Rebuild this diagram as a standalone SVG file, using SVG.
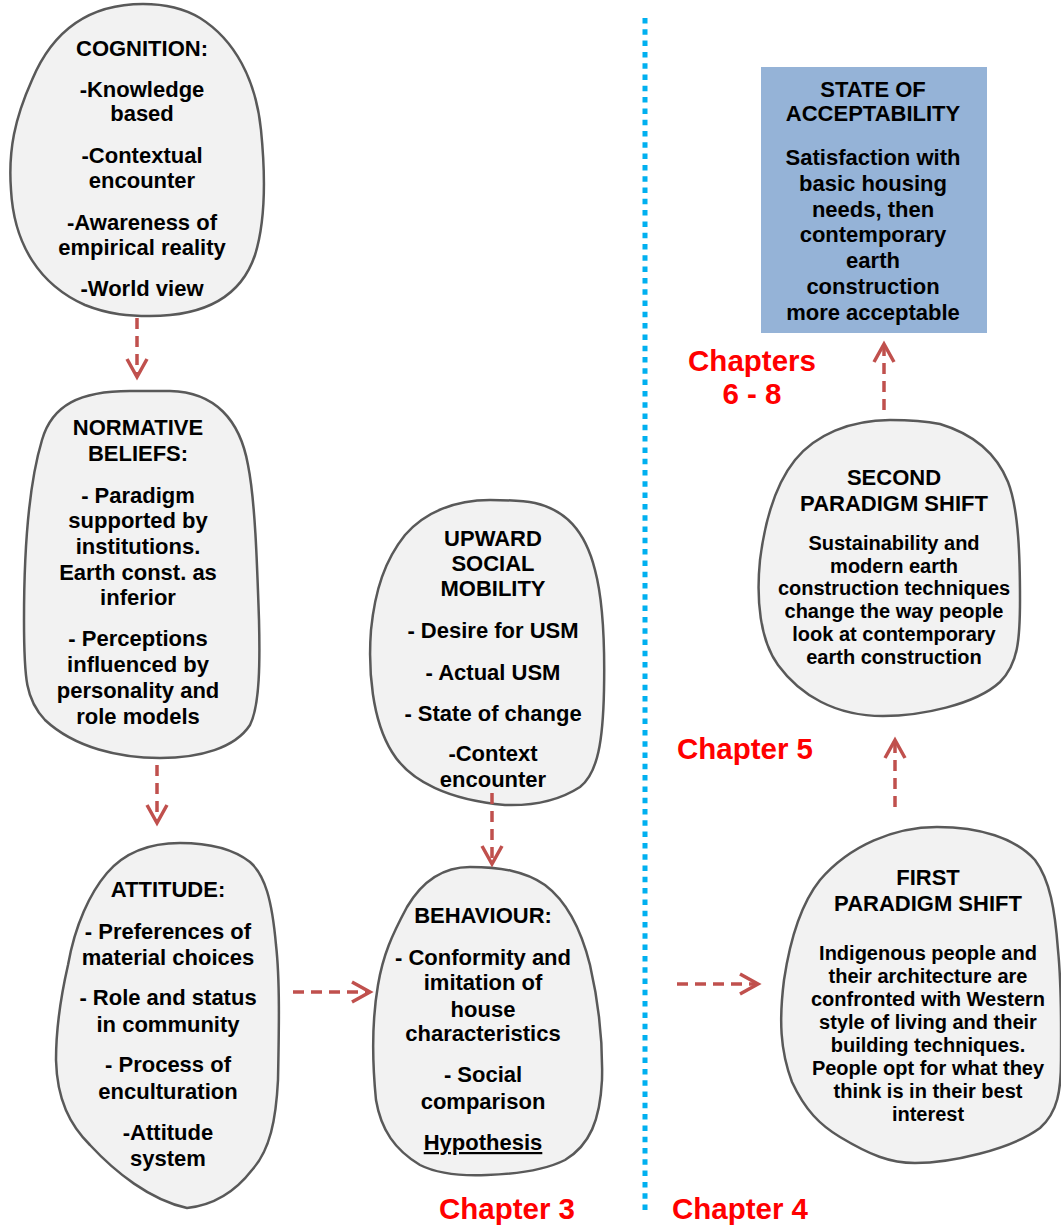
<svg xmlns="http://www.w3.org/2000/svg" width="1061" height="1226" viewBox="0 0 1061 1226">
<style>
.blob{fill:#F2F2F2;stroke:#595959;stroke-width:2.5}
.t{font-family:"Liberation Sans",Arial,sans-serif;font-weight:bold;font-size:22px;fill:#000;text-anchor:middle}
.s{font-size:20px}
.ch{font-family:"Liberation Sans",Arial,sans-serif;font-weight:bold;font-size:29.5px;fill:#FF0000;text-anchor:middle}
.arr{fill:none;stroke:#C0504D;stroke-width:3.5;stroke-dasharray:11 7;marker-end:url(#head)}
</style>
<defs>
<marker id="head" markerUnits="userSpaceOnUse" orient="auto" refX="0" refY="0" markerWidth="40" markerHeight="40" viewBox="-20 -20 40 40" overflow="visible">
<path d="M-18,-10 L0,0 L-18,10" fill="none" stroke="#C0504D" stroke-width="3.5"/>
</marker>
</defs>
<rect width="1061" height="1226" fill="#FFFFFF"/>
<line x1="645" y1="18" x2="645" y2="1212" stroke="#00B0F0" stroke-width="5" stroke-dasharray="5.5 5.8"/>

<g id="cognition">
<path class="blob" d="M143,4 C95,4 55,25 32,80 C15,118 8,150 11,190 C14,245 40,285 85,305 C110,315 130,316 150,316 C200,316 240,300 255,255 C266,220 265,170 261,130 C256,80 235,40 200,18 C185,9 165,4 143,4 Z"/>
<text class="t" x="142" y="56">COGNITION:</text>
<text class="t" x="142" y="97">-Knowledge</text>
<text class="t" x="142" y="121">based</text>
<text class="t" x="142" y="163">-Contextual</text>
<text class="t" x="142" y="188">encounter</text>
<text class="t" x="142" y="230">-Awareness of</text>
<text class="t" x="142" y="255">empirical reality</text>
<text class="t" x="142" y="296">-World view</text>
</g>

<g id="normative">
<path class="blob" d="M130,391 C80,391 52,405 42,440 C30,480 24,540 24,620 C24,680 26,700 45,720 C75,748 120,758 160,758 C200,758 235,748 250,725 C260,705 260,660 259,620 C257,560 255,500 248,465 C240,420 215,392 170,391 Z"/>
<text class="t" x="138" y="435">NORMATIVE</text>
<text class="t" x="138" y="461">BELIEFS:</text>
<text class="t" x="138" y="503">- Paradigm</text>
<text class="t" x="138" y="528">supported by</text>
<text class="t" x="138" y="554">institutions.</text>
<text class="t" x="138" y="580">Earth const. as</text>
<text class="t" x="138" y="605">inferior</text>
<text class="t" x="138" y="646">- Perceptions</text>
<text class="t" x="138" y="672">influenced by</text>
<text class="t" x="138" y="698">personality and</text>
<text class="t" x="138" y="724">role models</text>
</g>

<g id="attitude">
<path class="blob" d="M180,843 C150,843 125,852 107,873 C90,893 75,925 68,965 C60,1000 56,1030 56,1060 C57,1100 70,1125 90,1145 C115,1172 150,1200 187,1208 C215,1205 235,1192 252,1170 C270,1150 276,1120 278,1080 C279,1030 280,980 276,945 C272,900 265,875 250,862 C232,848 205,843 180,843 Z"/>
<text class="t" x="168" y="897">ATTITUDE:</text>
<text class="t" x="168" y="939">- Preferences of</text>
<text class="t" x="168" y="965">material choices</text>
<text class="t" x="168" y="1005">- Role and status</text>
<text class="t" x="168" y="1032">in community</text>
<text class="t" x="168" y="1072">- Process of</text>
<text class="t" x="168" y="1099">enculturation</text>
<text class="t" x="168" y="1140">-Attitude</text>
<text class="t" x="168" y="1166">system</text>
</g>

<g id="usm">
<path class="blob" d="M490,500 C455,500 425,512 405,535 C385,560 375,590 371,630 C368,670 372,720 392,752 C410,782 450,800 505,805 C535,806 560,800 580,787 C598,773 603,740 604,690 C605,640 603,600 595,570 C585,530 565,510 535,503 C520,500 505,500 490,500 Z"/>
<text class="t" x="493" y="546">UPWARD</text>
<text class="t" x="493" y="571">SOCIAL</text>
<text class="t" x="493" y="596">MOBILITY</text>
<text class="t" x="493" y="638">- Desire for USM</text>
<text class="t" x="493" y="680">- Actual USM</text>
<text class="t" x="493" y="721">- State of change</text>
<text class="t" x="493" y="761">-Context</text>
<text class="t" x="493" y="787">encounter</text>
</g>

<g id="behaviour">
<path class="blob" d="M470,867 C440,867 420,885 407,907 C392,935 383,955 378,985 C372,1020 372,1060 376,1100 C381,1130 395,1150 420,1165 C440,1175 465,1176 487,1175 C520,1174 545,1170 565,1160 C590,1145 600,1120 602,1080 C603,1040 598,1000 590,965 C580,925 565,900 545,885 C525,871 500,867 470,867 Z"/>
<text class="t" x="483" y="923">BEHAVIOUR:</text>
<text class="t" x="483" y="965">- Conformity and</text>
<text class="t" x="483" y="990">imitation of</text>
<text class="t" x="483" y="1017">house</text>
<text class="t" x="483" y="1041">characteristics</text>
<text class="t" x="483" y="1082">- Social</text>
<text class="t" x="483" y="1109">comparison</text>
<text class="t" x="483" y="1150" text-decoration="underline">Hypothesis</text>
</g>

<g id="acceptability">
<rect x="761" y="67" width="226" height="266" fill="#95B3D7"/>
<text class="t" x="873" y="97">STATE OF</text>
<text class="t" x="873" y="121">ACCEPTABILITY</text>
<text class="t" x="873" y="165">Satisfaction with</text>
<text class="t" x="873" y="191">basic housing</text>
<text class="t" x="873" y="217">needs, then</text>
<text class="t" x="873" y="242">contemporary</text>
<text class="t" x="873" y="268">earth</text>
<text class="t" x="873" y="294">construction</text>
<text class="t" x="873" y="320">more acceptable</text>
</g>

<g id="second-shift">
<path class="blob" d="M890,420 C850,420 815,435 795,460 C775,485 765,520 760,560 C756,600 760,640 778,665 C800,695 835,716 883,716 C920,716 975,705 1000,682 C1018,664 1020,640 1020,600 C1020,560 1019,510 1008,482 C995,450 970,433 940,424 C925,421 905,420 890,420 Z"/>
<text class="t" x="894" y="485">SECOND</text>
<text class="t" x="894" y="511">PARADIGM SHIFT</text>
<text class="t s" x="894" y="550">Sustainability and</text>
<text class="t s" x="894" y="573">modern earth</text>
<text class="t s" x="894" y="595">construction techniques</text>
<text class="t s" x="894" y="618">change the way people</text>
<text class="t s" x="894" y="641">look at contemporary</text>
<text class="t s" x="894" y="664">earth construction</text>
</g>

<g id="first-shift">
<path class="blob" d="M937,827 C895,827 850,845 820,880 C800,905 790,940 784,980 C779,1020 780,1050 792,1082 C805,1110 820,1125 840,1137 C870,1155 890,1163 915,1163 C950,1163 1010,1150 1040,1128 C1058,1112 1061,1090 1061,1060 C1061,1030 1062,990 1058,950 C1055,910 1050,880 1035,860 C1015,838 980,827 937,827 Z"/>
<text class="t" x="928" y="885">FIRST</text>
<text class="t" x="928" y="911">PARADIGM SHIFT</text>
<text class="t s" x="928" y="960">Indigenous people and</text>
<text class="t s" x="928" y="983">their architecture are</text>
<text class="t s" x="928" y="1006">confronted with Western</text>
<text class="t s" x="928" y="1029">style of living and their</text>
<text class="t s" x="928" y="1052">building techniques.</text>
<text class="t s" x="928" y="1075">People opt for what they</text>
<text class="t s" x="928" y="1098">think is in their best</text>
<text class="t s" x="928" y="1121">interest</text>
</g>

<g id="labels">
<text class="ch" x="752" y="371">Chapters</text>
<text class="ch" x="752" y="404">6 - 8</text>
<text class="ch" x="745" y="759">Chapter 5</text>
<text class="ch" x="507" y="1219">Chapter 3</text>
<text class="ch" x="740" y="1219">Chapter 4</text>
</g>

<g id="connectors">
<line class="arr" x1="137" y1="318" x2="137" y2="377"/>
<line class="arr" x1="157" y1="765" x2="157" y2="823"/>
<line class="arr" x1="293" y1="992" x2="370" y2="992"/>
<line class="arr" x1="492" y1="793" x2="492" y2="864"/>
<line class="arr" x1="677" y1="984" x2="758" y2="984"/>
<line class="arr" x1="895" y1="807" x2="895" y2="740"/>
<line class="arr" x1="884" y1="410" x2="884" y2="344"/>
</g>
</svg>
